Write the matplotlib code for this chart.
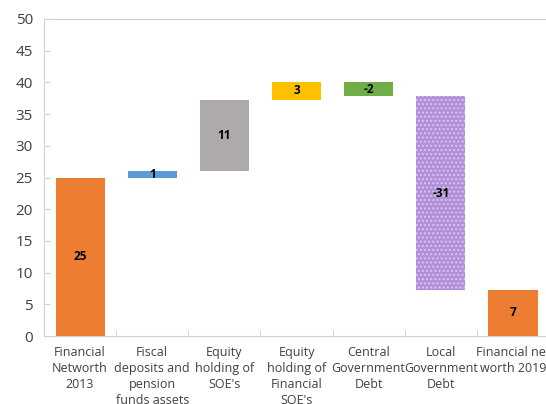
import numpy as np
import matplotlib.pyplot as plt

plt.rcParams['font.family'] = ['Open Sans', 'DejaVu Sans']

# 各項目（ウォーターフォール）
categories = ["Financial\nNetworth\n2013", "Fiscal\ndeposits and\npension\nfunds assets",
              "Equity\nholding of\nSOE's", "Equity\nholding of\nFinancial\nSOE's",
              "Central\nGovernment\nDebt", "Local\nGovernment\nDebt",
              "Financial net\nworth 2019"]
changes = [25.0, 1.0, 11.2, 2.9, -2.3, -30.5]
labels = ["25", "1", "11", "3", "-2", "-31", "7"]
colors = ["#ED7D31", "#5B9BD5", "#AEAAAA", "#FFC000", "#70AD47", "#B18FD6", "#ED7D31"]

# 累積から底と高さを求める
bottoms = []
heights = []
level = 0.0
for i, c in enumerate(changes):
    if i == 0:
        bottoms.append(0.0)
        heights.append(c)
    else:
        bottoms.append(level + min(c, 0))
        heights.append(abs(c))
    level += c
bottoms.append(0.0)
heights.append(level)

fig = plt.figure(figsize=(5.46, 4.04), dpi=100)
ax = fig.add_axes([0.0806, 0.168, 0.925, 0.785])

x = np.arange(len(categories))
bars = ax.bar(x, heights, bottom=bottoms, width=0.68, color=colors, edgecolor='none')
# Local Government Debt は点模様
bars[5].set_hatch('....')
bars[5].set_edgecolor('#D9C6EE')
bars[5].set_linewidth(0)

for b, lab in zip(bars, labels):
    cy = b.get_y() + b.get_height() / 2
    ax.text(b.get_x() + b.get_width() / 2, cy, lab, ha='center', va='center',
            fontsize=8.5, fontweight='bold', color='black')

ax.set_xlim(-0.5, 6.5)
ax.set_ylim(0, 50)
ax.set_yticks(np.arange(0, 51, 5))
ax.set_xticks(x)
ax.set_xticklabels(categories, fontsize=9, color='#404040', linespacing=1.3)
ax.set_xticks(np.arange(-0.5, 7, 1), minor=True)
ax.tick_params(axis='x', which='major', length=0, pad=7)
ax.tick_params(axis='x', which='minor', length=4, direction='in', color='#D0D0D0')
ax.tick_params(axis='y', length=4, direction='in', color='#D0D0D0', labelsize=11,
               labelcolor='#404040', pad=8)

for s in ['left', 'bottom', 'top']:
    ax.spines[s].set_color('#D0D0D0')
ax.spines['right'].set_visible(False)

fig.savefig("out.png", dpi=100)
